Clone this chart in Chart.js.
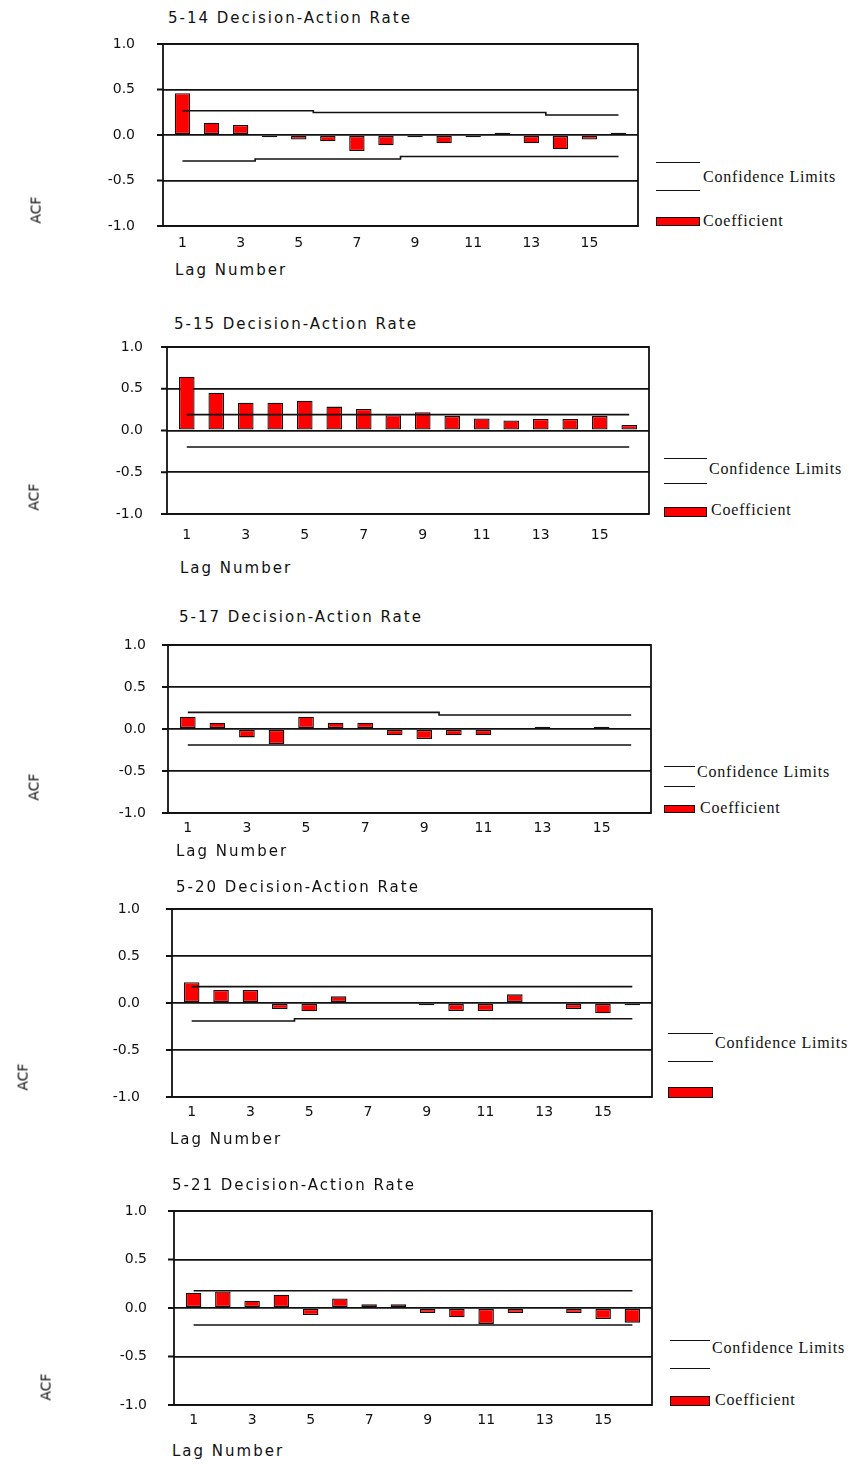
<!DOCTYPE html>
<html>
<head>
<meta charset="utf-8">
<script src="https://cdn.jsdelivr.net/npm/chart.js@4"></script>
<style>
  body { margin: 0; background: #fff; }
  #page { position: relative; width: 848px; height: 1464px; overflow: hidden; }
  canvas { position: absolute; }
  .txt { position: absolute; font-family: "DejaVu Sans", sans-serif; color: #111; white-space: nowrap; line-height: 1; }
  .title { font-size: 15px; letter-spacing: 2px; }
  .lag { font-size: 15px; letter-spacing: 2px; }
  .acf { font-size: 14px; transform: rotate(-90deg); transform-origin: center center; }
  .leg { position: absolute; font-family: "Liberation Serif", serif; font-size: 16px; letter-spacing: 0.8px; color: #111; white-space: nowrap; line-height: 1; }
  .ln { position: absolute; height: 0; border-top: 1.5px solid #111; }
  .sw { position: absolute; background: #ff0000; border: 1.5px solid #111; box-sizing: border-box; }
</style>
</head>
<body>
<div id="page"></div>
<script>
// lags and ticks
const lags = [1, 2, 3, 4, 5, 6, 7, 8, 9, 10, 11, 12, 13, 14, 15, 16];
const xTickLabels = [1, 3, 5, 7, 9, 11, 13, 15];
const yTickValues = [-1, -0.5, 0, 0.5, 1];

// 5-14
const acf514 = [0.46, 0.135, 0.11, -0.025, -0.05, -0.07, -0.175, -0.113, -0.025, -0.09, -0.025, 0.025, -0.09, -0.157, -0.05, 0.025];
const upper514 = [0.266, 0.266, 0.266, 0.266, 0.266, 0.248, 0.248, 0.248, 0.248, 0.248, 0.248, 0.248, 0.248, 0.219, 0.219, 0.219];
const lower514 = [-0.285, -0.285, -0.285, -0.263, -0.263, -0.263, -0.263, -0.263, -0.237, -0.237, -0.237, -0.237, -0.237, -0.237, -0.237, -0.237];

// 5-15
const acf515 = [0.643, 0.452, 0.333, 0.333, 0.357, 0.286, 0.258, 0.183, 0.218, 0.175, 0.143, 0.119, 0.139, 0.139, 0.175, 0.067];
const upper515 = [0.19, 0.19, 0.19, 0.19, 0.19, 0.19, 0.19, 0.19, 0.19, 0.19, 0.19, 0.19, 0.19, 0.19, 0.19, 0.19];
const lower515 = [-0.198, -0.198, -0.198, -0.198, -0.198, -0.198, -0.198, -0.198, -0.198, -0.198, -0.198, -0.198, -0.198, -0.198, -0.198, -0.198];

// 5-17
const acf517 = [0.147, 0.075, -0.1, -0.179, 0.147, 0.075, 0.075, -0.075, -0.119, -0.075, -0.075, 0, 0.028, 0, 0.028, 0];
const upper517 = [0.198, 0.198, 0.198, 0.198, 0.198, 0.198, 0.198, 0.198, 0.198, 0.167, 0.167, 0.167, 0.167, 0.167, 0.167, 0.167];
const lower517 = [-0.19, -0.19, -0.19, -0.19, -0.19, -0.19, -0.19, -0.19, -0.19, -0.19, -0.19, -0.19, -0.19, -0.19, -0.19, -0.19];

// 5-20
const acf520 = [0.22, 0.138, 0.138, -0.064, -0.089, 0.071, 0, 0, -0.025, -0.085, -0.085, 0.092, 0, -0.064, -0.11, -0.025];
const upper520 = [0.174, 0.174, 0.174, 0.174, 0.174, 0.174, 0.174, 0.174, 0.174, 0.174, 0.174, 0.174, 0.174, 0.174, 0.174, 0.174];
const lower520 = [-0.191, -0.191, -0.191, -0.191, -0.167, -0.167, -0.167, -0.167, -0.167, -0.167, -0.167, -0.167, -0.167, -0.167, -0.167, -0.167];

// 5-21
const acf521 = [0.158, 0.171, 0.075, 0.137, -0.072, 0.099, 0.038, 0.038, -0.051, -0.096, -0.164, -0.051, 0, -0.051, -0.113, -0.151];
const upper521 = [0.178, 0.178, 0.178, 0.178, 0.178, 0.178, 0.178, 0.178, 0.178, 0.178, 0.178, 0.178, 0.178, 0.178, 0.178, 0.178];
const lower521 = [-0.175, -0.175, -0.175, -0.175, -0.175, -0.175, -0.175, -0.175, -0.175, -0.175, -0.175, -0.175, -0.175, -0.175, -0.175, -0.175];

// where each panel sits on the page
const panels = [
  { title: "5-14 Decision-Action Rate", acf: acf514, up: upper514, lo: lower514,
    L: 163, R: 638, T: 44, B: 226, yGap: 28, xPad: 9,
    titleAt: [168, 19], lagAt: [175, 271], acfAt: [35, 210],
    leg: { x1: 656, x2: 700, l1: 162, l2: 190, tx: 703, ty: 177, sy1: 217, sy2: 226, cx: 703, cy: 221, coef: true } },
  { title: "5-15 Decision-Action Rate", acf: acf515, up: upper515, lo: lower515,
    L: 167, R: 649, T: 347, B: 514, yGap: 24, xPad: 13,
    titleAt: [174, 325], lagAt: [180, 569], acfAt: [33, 497],
    leg: { x1: 664, x2: 707, l1: 458, l2: 483, tx: 709, ty: 469, sy1: 507, sy2: 517, cx: 711, cy: 510, coef: true } },
  { title: "5-17 Decision-Action Rate", acf: acf517, up: upper517, lo: lower517,
    L: 168, R: 651, T: 645, B: 813, yGap: 22, xPad: 7,
    titleAt: [179, 618], lagAt: [176, 852], acfAt: [33, 787],
    leg: { x1: 664, x2: 695, l1: 766, l2: 786, tx: 697, ty: 772, sy1: 805, sy2: 813, cx: 700, cy: 808, coef: true } },
  { title: "5-20 Decision-Action Rate", acf: acf520, up: upper520, lo: lower520,
    L: 172, R: 652, T: 909, B: 1097, yGap: 32, xPad: 7,
    titleAt: [176, 888], lagAt: [170, 1140], acfAt: [22, 1077],
    leg: { x1: 668, x2: 713, l1: 1033, l2: 1061, tx: 715, ty: 1043, sy1: 1087, sy2: 1098, cx: 0, cy: 0, coef: false } },
  { title: "5-21 Decision-Action Rate", acf: acf521, up: upper521, lo: lower521,
    L: 174, R: 652, T: 1211, B: 1405, yGap: 27, xPad: 7,
    titleAt: [172, 1186], lagAt: [172, 1452], acfAt: [45, 1387],
    leg: { x1: 670, x2: 710, l1: 1340, l2: 1368, tx: 712, ty: 1348, sy1: 1396, sy2: 1406, cx: 715, cy: 1400, coef: true } }
];

const page = document.getElementById("page");

function addText(cls, text, x, y) {
  const d = document.createElement("div");
  d.className = cls;
  d.textContent = text;
  d.style.left = x + "px";
  d.style.top = y + "px";
  page.appendChild(d);
  return d;
}

function addBox(cls, x, y, w, h) {
  const d = document.createElement("div");
  d.className = cls;
  d.style.left = x + "px";
  d.style.top = y + "px";
  d.style.width = w + "px";
  if (h != null) d.style.height = h + "px";
  page.appendChild(d);
}

// frame round the plot area + short tick marks on the y axis
const frame = {
  id: "frame",
  afterDatasetsDraw(chart) {
    const a = chart.chartArea, c = chart.ctx, ys = chart.scales.y;
    c.save();
    c.strokeStyle = "#111";
    c.lineWidth = 1.8;
    c.strokeRect(a.left, a.top, a.right - a.left, a.bottom - a.top);
    c.beginPath();
    yTickValues.forEach((v) => {
      const py = ys.getPixelForValue(v);
      c.moveTo(a.left - 6, py);
      c.lineTo(a.left, py);
    });
    c.stroke();
    c.restore();
  }
};

const TOP = 9, XH = 34;

panels.forEach((p) => {
  const cv = document.createElement("canvas");
  const w = p.R + 2, h = (p.B - p.T) + TOP + XH;
  cv.style.left = "0px";
  cv.style.top = (p.T - TOP) + "px";
  cv.style.width = w + "px";
  cv.style.height = h + "px";
  cv.width = w; cv.height = h;
  page.appendChild(cv);

  new Chart(cv.getContext("2d"), {
    type: "bar",
    data: {
      labels: lags,
      datasets: [
        { type: "line", label: "Upper", data: p.up, borderColor: "#111", borderWidth: 1.6,
          pointRadius: 0, stepped: "middle", fill: false, order: 1 },
        { type: "line", label: "Lower", data: p.lo, borderColor: "#111", borderWidth: 1.6,
          pointRadius: 0, stepped: "middle", fill: false, order: 1 },
        { type: "bar", label: "Coefficient", data: p.acf, backgroundColor: "#ff0000",
          borderColor: "#111", borderWidth: 1.3, borderSkipped: false,
          barPercentage: 0.53, categoryPercentage: 1, order: 2 }
      ]
    },
    options: {
      responsive: false,
      animation: false,
      layout: { autoPadding: false, padding: { top: TOP, right: 2, left: 0, bottom: 0 } },
      plugins: { legend: { display: false }, tooltip: { enabled: false } },
      scales: {
        x: {
          type: "linear", min: 0.33, max: 16.67, offset: false,
          grid: { display: false, drawTicks: false },
          border: { display: false },
          afterBuildTicks: (s) => { s.ticks = xTickLabels.map((v) => ({ value: v })); },
          afterFit: (s) => { s.height = XH; },
          ticks: { color: "#111", padding: p.xPad, maxRotation: 0, autoSkip: false,
            font: { family: "DejaVu Sans", size: 14 }, callback: (v) => String(v) }
        },
        y: {
          min: -1, max: 1,
          grid: { color: "#111", lineWidth: 1.8, tickLength: p.yGap, tickColor: "rgba(0,0,0,0)", drawTicks: true },
          border: { display: false },
          afterBuildTicks: (s) => { s.ticks = yTickValues.map((v) => ({ value: v })); },
          afterFit: (s) => { s.width = p.L; },
          ticks: { color: "#111", padding: 0,
            font: { family: "DejaVu Sans", size: 14 }, callback: (v) => v.toFixed(1) }
        }
      }
    },
    plugins: [frame]
  });

  // title, axis names, legend
  addText("txt title", p.title, p.titleAt[0], p.titleAt[1] - 8);
  addText("txt lag", "Lag Number", p.lagAt[0], p.lagAt[1] - 8);
  const a = addText("txt acf", "ACF", 0, 0);
  const aw = a.offsetWidth, ah = a.offsetHeight;
  a.style.left = (p.acfAt[0] - aw / 2) + "px";
  a.style.top = (p.acfAt[1] - ah / 2) + "px";

  const g = p.leg;
  addBox("ln", g.x1, g.l1, g.x2 - g.x1);
  addBox("ln", g.x1, g.l2, g.x2 - g.x1);
  addText("leg", "Confidence Limits", g.tx, g.ty - 8);
  addBox("sw", g.x1, g.sy1, g.x2 - g.x1, g.sy2 - g.sy1);
  if (g.coef) addText("leg", "Coefficient", g.cx, g.cy - 8);
});
</script>
</body>
</html>
